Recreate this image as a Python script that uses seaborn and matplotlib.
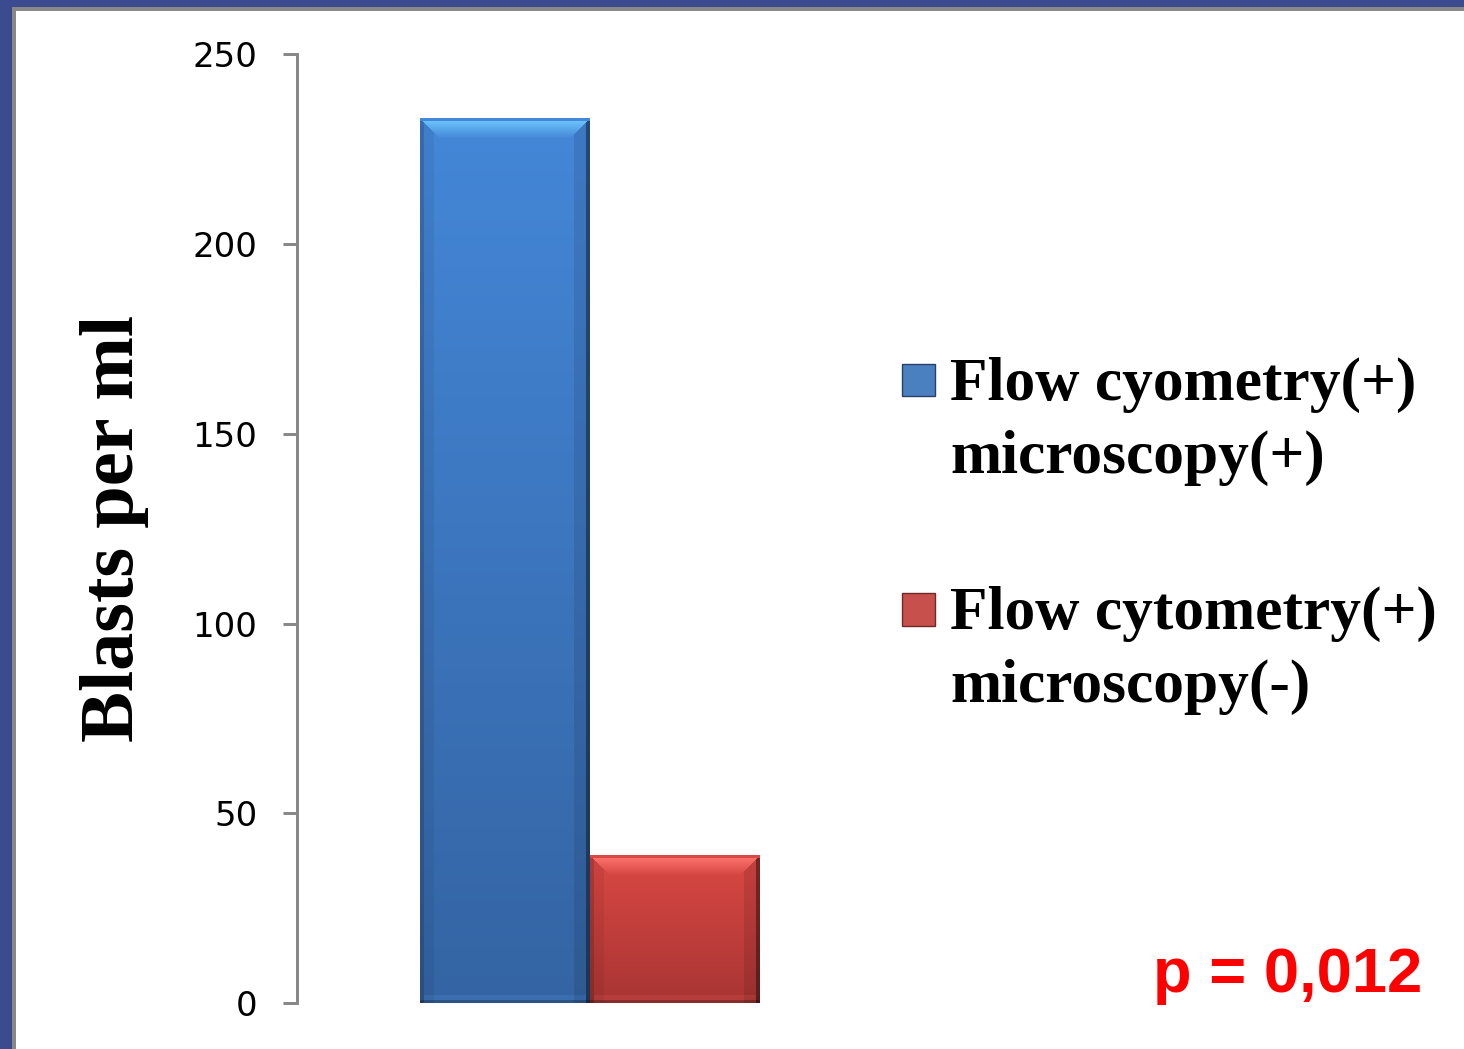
import numpy as np
import pandas as pd
import matplotlib
matplotlib.use("Agg")
import matplotlib.pyplot as plt
import seaborn as sns
from matplotlib.patches import Rectangle
from matplotlib.legend_handler import HandlerPatch

# ---------------- data ----------------
series = ["Flow cyometry(+)\nmicroscopy(+)", "Flow cytometry(+)\nmicroscopy(-)"]
blasts = [233, 39]
group = ["all", "all"]
yticks = [0, 50, 100, 150, 200, 250]
ylabel = "Blasts per ml"
p_text = "p = 0,012"

bar_top_colors = ["#4487D8", "#DA4844"]
bar_bot_colors = ["#3464A3", "#A83533"]
legend_colors = ["#4A7FC0", "#C8504C"]

# ---------------- figure ----------------
W, H, DPI = 1464, 1049, 100
sns.set_theme(style="white")
plt.rcParams["font.family"] = ["DejaVu Sans"]

fig = plt.figure(figsize=(W / DPI, H / DPI), dpi=DPI)
fig.patch.set_facecolor("#3c4a90")
fig.add_artist(Rectangle((14 / W, -0.05), 1.2, 1 - 9 / H + 0.05,
                         transform=fig.transFigure, facecolor="white",
                         edgecolor="#888888", linewidth=4 * 72 / DPI, zorder=-5))

ax_left, ax_right = 297, 880
ax_top, ax_bot = 54.3, 1003
ax = fig.add_axes([ax_left / W, 1 - ax_bot / H, (ax_right - ax_left) / W,
                   (ax_bot - ax_top) / H])
ax.set_facecolor("none")

df = pd.DataFrame({"group": group, "series": series, "blasts": blasts})
sns.barplot(data=df, x="group", y="blasts", hue="series", hue_order=series,
            palette=bar_top_colors, saturation=1, width=0.8, errorbar=None,
            legend=False, ax=ax, linewidth=0)

# axes limits: bars span 420..759 px
px_per_unit = (759 - 420) / 0.8
cx = (759 + 420) / 2
xlim = (-(cx - ax_left) / px_per_unit, (ax_right - cx) / px_per_unit)
ax.set_xlim(*xlim)
ax.set_ylim(0, 250)

# bevel / gradient overlays for bars
def hex2rgb(h):
    return np.array(matplotlib.colors.to_rgb(h))

bars = list(ax.patches)
for i, p in enumerate(bars):
    x0, y0, w, h = p.get_x(), p.get_y(), p.get_width(), p.get_height()
    (px0, py0), (px1, py1) = ax.transData.transform([(x0, y0), (x0 + w, y0 + h)])
    nx, ny = max(int(round(px1 - px0)), 2), max(int(round(py1 - py0)), 2)
    top, bot = hex2rgb(bar_top_colors[i]), hex2rgb(bar_bot_colors[i])
    v = np.linspace(0, 1, ny)[:, None, None]
    img = np.broadcast_to(top * (1 - v) + bot * v, (ny, nx, 3)).copy()
    # side bands
    img[:, :14] *= 0.94
    img[:, :4] *= 0.85
    img[:, -16:] *= 0.9
    img[:, -4:] *= 0.6
    # top highlight
    light = np.clip(top * 1.35 + 0.08, 0, 1)
    for r in range(min(20, ny)):
        t = r / 20
        c = light * (1 - t) + img[r, nx // 2] * t
        lo, hi = min(r, nx // 2), max(nx - r, nx // 2)
        img[r, lo:hi] = c
    img[:3, :] = top
    # bottom band
    img[-8:, 4:-4] = np.clip(img[-8:, 4:-4] * 1.05 + 0.02, 0, 1)
    img[-3:, :] *= 0.75
    ax.imshow(img, extent=(x0, x0 + w, y0, y0 + h), origin="upper",
              aspect="auto", zorder=3, interpolation="bilinear")

ax.set_xlim(*xlim)
ax.set_ylim(0, 250)

# ticks / spines
ax.set_yticks(yticks)
ax.set_yticklabels([str(t) for t in yticks])
ax.set_xticks([])
ax.set_xlabel("")
for s in ["top", "right", "bottom"]:
    ax.spines[s].set_visible(False)
ax.spines["left"].set_color("#888888")
ax.spines["left"].set_linewidth(3 * 72 / DPI)
ax.tick_params(axis="y", left=True, direction="out", length=10,
               width=3 * 72 / DPI, color="#888888", pad=18.5,
               labelsize=24.5, labelcolor="black")

ax.set_ylabel(ylabel, fontfamily="Liberation Serif", fontweight="bold",
              fontsize=55, color="black")
ax.yaxis.set_label_coords((149 - ax_left) / (ax_right - ax_left), 0.5)

# legend
def square(legend, orig_handle, xdescent, ydescent, width, height, fontsize):
    s = 0.53 * fontsize
    yc = 1.02 * fontsize
    return Rectangle((-xdescent, yc - s / 2), s, s)

handles = [Rectangle((0, 0), 1, 1, facecolor=c, edgecolor="#2a3f66" if i == 0 else "#6e2a28",
                     linewidth=1) for i, c in enumerate(legend_colors)]
leg = ax.legend(handles=handles, labels=series,
                handler_map={Rectangle: HandlerPatch(patch_func=square)},
                loc="upper left", bbox_to_anchor=(902 / W, 1 - 357 / H),
                bbox_transform=fig.transFigure, frameon=False, borderpad=0,
                borderaxespad=0, handlelength=0.52, handleheight=0.7,
                handletextpad=0.26, labelspacing=1.64,
                prop={"family": "Liberation Serif", "weight": "bold", "size": 44.2})
for t in leg.get_texts():
    t.set_linespacing(1.38)
    t.set_color("black")

fig.text(1422 / W, 1 - 992 / H, p_text, ha="right", va="baseline",
         color="#ff0000", fontfamily="Liberation Sans", fontweight="bold",
         fontsize=45.5)

fig.savefig("out.png", dpi=DPI, facecolor=fig.get_facecolor())
